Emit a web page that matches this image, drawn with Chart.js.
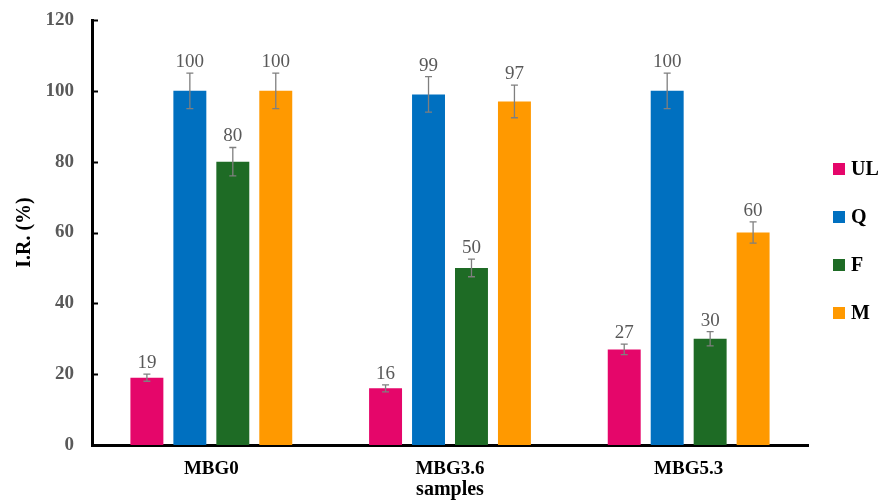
<!DOCTYPE html>
<html>
<head>
<meta charset="utf-8">
<script src="https://cdn.jsdelivr.net/npm/chart.js@4/dist/chart.umd.min.js"></script>
<style>
  html, body { margin: 0; padding: 0; background: #ffffff; }
  #wrap { width: 886px; height: 502px; position: relative; }
</style>
</head>
<body>
<div id="wrap"><canvas id="chart"></canvas></div>
<script>
// Samples and inhibition ratios (%) per organism
const categories = ['MBG0', 'MBG3.6', 'MBG5.3'];
const seriesNames = ['UL', 'Q', 'F', 'M'];
const ulValues = [19, 16, 27];
const qValues = [100, 99, 100];
const fValues = [80, 50, 30];
const mValues = [100, 97, 60];

// Standard deviations shown as error bars
const ulErrors = [1, 1, 1.5];
const qErrors = [5, 5, 5];
const fErrors = [4, 2.5, 2];
const mErrors = [5, 4.6, 3];

const yTicks = [0, 20, 40, 60, 80, 100, 120];

const seriesColors = ['#E5066A', '#0070C0', '#1E6B25', '#FF9900'];
const seriesValues = [ulValues, qValues, fValues, mValues];
const seriesErrors = [ulErrors, qErrors, fErrors, mErrors];

const serif = "'Liberation Serif', 'Times New Roman', serif";

// Error bars with caps, plus value labels above each bar
const errorBarsAndLabels = {
  id: 'errorBarsAndLabels',
  afterDatasetsDraw(chart) {
    const ctx = chart.ctx;
    const yScale = chart.scales.y;
    ctx.save();
    chart.data.datasets.forEach((ds, i) => {
      const meta = chart.getDatasetMeta(i);
      meta.data.forEach((bar, j) => {
        const v = ds.data[j];
        const e = ds.errors[j];
        const x = bar.x;
        const yTop = yScale.getPixelForValue(v + e);
        const yBot = yScale.getPixelForValue(v - e);
        ctx.strokeStyle = '#7F7F7F';
        ctx.lineWidth = 1.3;
        ctx.beginPath();
        ctx.moveTo(x, yTop); ctx.lineTo(x, yBot);
        ctx.moveTo(x - 3.5, yTop); ctx.lineTo(x + 3.5, yTop);
        ctx.moveTo(x - 3.5, yBot); ctx.lineTo(x + 3.5, yBot);
        ctx.stroke();
        ctx.fillStyle = '#595959';
        ctx.font = '19px ' + serif;
        ctx.textAlign = 'center';
        ctx.textBaseline = 'middle';
        ctx.fillText(String(v), x, yTop - 11);
      });
    });
    ctx.restore();
  }
};

// Short tick marks on the inner side of the value axis
const innerTicks = {
  id: 'innerTicks',
  afterDraw(chart) {
    const ctx = chart.ctx;
    const yScale = chart.scales.y;
    const left = chart.chartArea.left;
    ctx.save();
    ctx.strokeStyle = '#000000';
    ctx.lineWidth = 2;
    yTicks.forEach(t => {
      const y = Math.round(yScale.getPixelForValue(t)) + 0.5;
      ctx.beginPath();
      ctx.moveTo(left, y);
      ctx.lineTo(left + 6, y);
      ctx.stroke();
    });
    ctx.restore();
  }
};

// Legend stacked on the right side
const sideLegend = {
  id: 'sideLegend',
  afterDraw(chart) {
    const ctx = chart.ctx;
    const startY = 169;
    const step = 48;
    ctx.save();
    chart.data.datasets.forEach((ds, i) => {
      const cy = startY + i * step;
      ctx.fillStyle = ds.backgroundColor;
      ctx.fillRect(833, cy - 6, 12, 12);
      ctx.fillStyle = '#000000';
      ctx.font = 'bold 20px ' + serif;
      ctx.textAlign = 'left';
      ctx.textBaseline = 'middle';
      ctx.fillText(ds.label, 851, cy + 1);
    });
    ctx.restore();
  }
};

const datasets = seriesNames.map((name, i) => ({
  label: name,
  data: seriesValues[i],
  errors: seriesErrors[i],
  backgroundColor: seriesColors[i],
  borderWidth: 0,
  categoryPercentage: 0.72,
  barPercentage: 0.767
}));

new Chart(document.getElementById('chart'), {
  type: 'bar',
  data: { labels: categories, datasets: datasets },
  options: {
    responsive: true,
    maintainAspectRatio: false,
    animation: false,
    layout: { padding: { left: 0, right: 78, top: 20, bottom: 0 } },
    plugins: {
      legend: { display: false },
      tooltip: { enabled: false }
    },
    scales: {
      x: {
        grid: { display: false, drawTicks: false },
        border: { display: true, color: '#000000', width: 3 },
        ticks: {
          color: '#000000',
          font: { family: serif, size: 19, weight: 'bold' },
          padding: 13
        },
        title: {
          display: true,
          text: 'samples',
          color: '#000000',
          font: { family: serif, size: 20, weight: 'bold' },
          padding: { top: 0, bottom: 0 }
        },
        afterFit(scale) { scale.height = 57; }
      },
      y: {
        min: 0,
        max: 120,
        grid: { display: false, drawTicks: false },
        border: { display: true, color: '#000000', width: 3 },
        afterBuildTicks(scale) { scale.ticks = yTicks.map(v => ({ value: v })); },
        ticks: {
          color: '#595959',
          font: { family: serif, size: 19, weight: 'bold' },
          padding: 18
        },
        title: {
          display: true,
          text: 'I.R. (%)',
          color: '#000000',
          font: { family: serif, size: 20, weight: 'bold' },
          padding: { top: 13, bottom: 13 }
        },
        afterFit(scale) {
          scale.width = 92;
          scale.paddingTop = 0;
          scale.paddingBottom = 0;
        }
      }
    }
  },
  plugins: [errorBarsAndLabels, innerTicks, sideLegend]
});
</script>
</body>
</html>
